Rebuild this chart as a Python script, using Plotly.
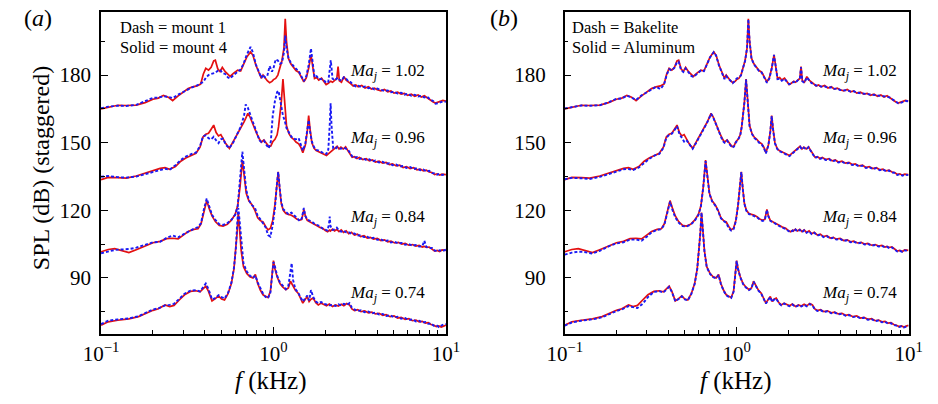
import plotly.graph_objects as go

# ---------------- data ----------------
# Ma_j = 1.02
F_102 = [0.100, 0.110, 0.125, 0.140, 0.160, 0.180, 0.200, 0.215, 0.230, 0.245,
         0.260, 0.280, 0.300, 0.320, 0.340, 0.360, 0.378, 0.392, 0.405, 0.420,
         0.435, 0.450, 0.460, 0.475, 0.490, 0.505, 0.525, 0.545, 0.560, 0.590,
         0.620, 0.645, 0.670, 0.700, 0.736, 0.760, 0.790, 0.820, 0.850, 0.870,
         0.890, 0.920, 0.950, 0.980, 1.000, 1.030, 1.060, 1.090, 1.120, 1.150,
         1.170, 1.190, 1.220, 1.260, 1.300, 1.350, 1.400, 1.450, 1.500, 1.550,
         1.600, 1.650, 1.690, 1.730, 1.780, 1.830, 1.900, 1.960, 2.020, 2.080,
         2.150, 2.200, 2.260, 2.330, 2.370, 2.410, 2.480, 2.560, 2.640, 2.720,
         2.800, 2.900, 3.000, 3.100, 3.250, 3.400, 3.550, 3.700, 3.850, 4.000,
         4.200, 4.400, 4.600, 4.800, 5.000, 5.250, 5.500, 5.750, 6.000, 6.300,
         6.600, 6.900, 7.200, 7.500, 7.800, 8.100, 8.400, 8.700, 9.000, 9.300,
         9.600, 10.00]
RED_102 = [165.0, 165.8, 166.6, 166.5, 166.7, 167.8, 169.3, 169.8, 171.0, 170.2,
           168.7, 170.8, 172.3, 174.0, 174.8, 175.2, 176.0, 180.5, 183.0, 182.2,
           183.5, 186.3, 186.6, 182.8, 181.6, 183.4, 181.5, 180.0, 179.4, 181.0,
           182.2, 181.8, 184.5, 188.0, 190.3, 188.8, 184.5, 181.5, 178.6, 180.0,
           178.8, 177.5, 176.6, 177.2, 178.0, 178.5, 180.0, 183.5, 186.5, 192.0,
           205.0, 195.0, 187.5, 185.0, 183.6, 182.0, 181.3, 179.2, 177.0, 178.8,
           183.0, 189.0, 183.5, 178.5, 178.9, 177.8, 178.6, 177.2, 175.8, 176.4,
           177.3, 176.8, 177.8, 178.5, 183.8, 177.5, 176.8, 179.3, 177.8, 176.8,
           176.2, 175.2, 175.6, 174.8, 175.4, 174.3, 174.8, 173.8, 174.2, 173.5,
           173.0, 173.6, 172.6, 173.0, 172.0, 172.4, 171.6, 171.9, 171.0, 171.5,
           170.6, 171.2, 170.3, 170.8, 169.8, 169.0, 168.2, 167.6, 167.9, 168.4,
           168.8, 168.5]
DASH_A_102 = [165.3, 166.0, 166.4, 166.3, 166.8, 168.3, 169.9, 170.0, 170.6, 170.3,
              169.8, 171.3, 172.6, 173.8, 174.7, 175.4, 176.3, 177.0, 178.8, 180.0,
              180.5, 180.8, 181.0, 181.9, 182.4, 181.0, 180.5, 178.9, 178.5, 180.2,
              181.6, 182.5, 185.0, 189.0, 192.5, 190.0, 184.8, 181.8, 178.8, 180.2,
              179.0, 179.5, 184.0, 181.5, 183.0, 187.0, 186.5, 185.0, 185.5, 190.0,
              197.5, 192.0, 187.8, 185.5, 184.2, 182.8, 181.8, 179.8, 177.3, 179.5,
              184.5, 191.8, 184.0, 179.0, 179.5, 178.3, 178.2, 177.8, 176.5, 177.0,
              186.6, 178.5, 177.6, 178.5, 178.9, 178.0, 177.5, 179.0, 178.4, 177.2,
              176.9, 175.6, 175.0, 175.3, 174.6, 174.9, 174.2, 174.5, 173.6, 174.0,
              173.6, 172.9, 173.2, 172.4, 172.6, 171.8, 172.2, 171.3, 171.7, 170.8,
              171.3, 170.5, 170.8, 170.1, 170.4, 169.2, 168.6, 167.3, 167.5, 167.8,
              168.3, 168.2]
DASH_B_102 = [165.2, 165.9, 166.5, 166.4, 166.6, 167.9, 169.5, 169.6, 170.9, 170.0,
              169.0, 171.0, 172.4, 173.9, 174.8, 173.8, 175.8, 180.0, 182.6, 182.0,
              183.3, 185.8, 186.0, 182.3, 181.4, 183.0, 181.3, 179.6, 179.2, 180.8,
              182.0, 181.7, 184.4, 187.8, 190.2, 188.6, 184.2, 181.2, 178.2, 179.6,
              178.5, 177.6, 176.4, 177.5, 178.5, 179.0, 179.8, 183.2, 186.3, 192.0,
              204.8, 195.0, 187.3, 184.8, 183.4, 181.8, 181.1, 179.0, 176.6, 178.5,
              182.8, 189.0, 183.2, 178.2, 178.4, 177.5, 178.3, 177.0, 176.0, 176.2,
              177.0, 176.5, 177.6, 178.3, 183.5, 177.3, 176.6, 179.0, 177.6, 176.5,
              176.0, 175.4, 175.3, 174.9, 175.0, 174.4, 174.6, 173.9, 174.0, 173.4,
              173.2, 173.3, 172.7, 172.8, 172.2, 172.0, 171.7, 171.5, 171.2, 171.3,
              170.9, 170.8, 170.5, 170.4, 170.0, 169.1, 168.3, 167.5, 167.7, 168.0,
              168.5, 168.4]

# Ma_j = 0.96
F_096 = [0.100, 0.110, 0.125, 0.140, 0.160, 0.180, 0.200, 0.220, 0.235, 0.250,
         0.270, 0.290, 0.310, 0.335, 0.355, 0.375, 0.390, 0.405, 0.420, 0.435,
         0.450, 0.465, 0.480, 0.495, 0.510, 0.530, 0.555, 0.585, 0.615, 0.645,
         0.675, 0.690, 0.710, 0.730, 0.755, 0.780, 0.800, 0.830, 0.850, 0.880,
         0.910, 0.940, 0.965, 0.990, 1.020, 1.050, 1.070, 1.090, 1.110, 1.135,
         1.160, 1.190, 1.230, 1.270, 1.310, 1.350, 1.400, 1.440, 1.480, 1.530,
         1.570, 1.600, 1.630, 1.670, 1.720, 1.770, 1.830, 1.900, 1.960, 2.030,
         2.080, 2.120, 2.145, 2.170, 2.220, 2.280, 2.340, 2.400, 2.460, 2.540,
         2.620, 2.700, 2.780, 2.860, 2.950, 3.050, 3.150, 3.300, 3.450, 3.600,
         3.750, 3.900, 4.100, 4.300, 4.500, 4.700, 4.900, 5.150, 5.400, 5.650,
         5.900, 6.200, 6.500, 6.800, 7.100, 7.400, 7.700, 8.000, 8.300, 8.600,
         8.900, 9.200, 9.500, 10.00]
RED_096 = [133.6, 134.6, 134.5, 134.3, 135.2, 136.4, 137.5, 138.6, 138.9, 138.2,
           139.4, 141.8, 143.2, 144.6, 145.3, 148.0, 152.5, 153.8, 154.2, 156.0,
           157.8, 154.5, 153.0, 153.6, 151.5, 149.5, 147.5, 150.5, 153.5, 156.0,
           159.2, 160.8, 163.0, 161.5, 158.5, 156.0, 154.0, 151.5, 150.2, 151.2,
           149.5, 148.3, 148.5, 150.4, 151.5, 153.5, 157.0, 162.0, 168.0, 178.2,
           168.0, 157.5, 154.0, 152.3, 151.5, 150.3, 149.5, 148.0, 145.5, 149.0,
           155.0, 162.0, 156.0, 150.0, 147.5, 146.5, 146.0, 145.5, 144.8, 144.3,
           145.0, 145.6, 146.0, 146.2, 147.0, 147.8, 148.4, 147.2, 148.0, 147.2,
           148.2, 146.5, 145.0, 143.5, 143.8, 143.0, 143.4, 142.5, 142.9, 141.9,
           142.3, 141.4, 141.8, 140.9, 141.2, 140.3, 140.6, 139.7, 140.0, 139.0,
           139.4, 138.5, 138.9, 138.0, 138.3, 137.5, 137.8, 137.0, 136.8, 135.9,
           136.2, 135.6, 136.0, 135.8]
DASH_A_096 = [134.9, 135.2, 134.7, 134.5, 135.0, 136.0, 137.2, 138.0, 138.4, 138.0,
              140.0, 142.3, 143.8, 145.0, 145.6, 148.5, 152.8, 153.3, 152.0, 151.5,
              152.6, 151.0, 149.8, 151.5, 151.8, 149.0, 147.6, 150.2, 153.5, 157.0,
              162.0, 167.0, 165.5, 163.0, 159.5, 156.2, 154.2, 151.0, 150.4, 151.0,
              149.0, 147.5, 150.5, 162.0, 168.5, 172.5, 173.0, 169.0, 165.5, 162.0,
              160.0, 156.5, 154.5, 152.6, 151.8, 151.5, 152.0, 149.5, 146.5, 149.5,
              155.0, 160.0, 155.0, 150.5, 148.0, 146.8, 146.5, 145.8, 145.3, 145.0,
              147.0, 158.0, 167.5, 158.0, 147.5, 147.2, 148.0, 147.6, 147.3, 147.8,
              147.5, 147.0, 145.5, 144.0, 143.3, 143.6, 142.8, 143.1, 142.3, 142.6,
              141.7, 142.1, 141.2, 141.5, 140.6, 140.9, 140.0, 140.3, 139.4, 139.7,
              138.8, 139.2, 138.3, 138.7, 137.8, 138.1, 137.3, 137.5, 136.5, 136.4,
              135.8, 136.2, 135.7, 136.0]
DASH_B_096 = [133.8, 134.4, 134.2, 133.9, 134.8, 136.0, 137.0, 138.2, 138.3, 137.9,
              139.0, 141.0, 142.8, 144.4, 145.0, 147.6, 152.2, 153.5, 154.0, 155.5,
              157.3, 153.8, 152.0, 150.5, 151.2, 149.3, 147.3, 150.3, 153.3, 155.8,
              159.0, 160.6, 162.8, 161.3, 158.4, 155.8, 153.5, 150.8, 150.0, 151.0,
              149.3, 147.8, 148.3, 150.2, 151.3, 153.3, 156.8, 161.8, 167.8, 178.0,
              167.8, 157.3, 153.8, 152.0, 151.2, 150.0, 149.2, 147.8, 145.2, 148.8,
              154.8, 161.8, 155.8, 149.8, 147.3, 146.2, 145.8, 145.2, 144.5, 144.0,
              144.8, 145.4, 145.8, 146.0, 146.8, 147.5, 148.2, 147.0, 147.8, 147.0,
              148.0, 146.3, 144.8, 143.3, 143.6, 142.8, 143.2, 142.3, 142.7, 141.7,
              142.1, 141.2, 141.6, 140.7, 141.0, 140.1, 140.4, 139.5, 139.8, 138.8,
              139.2, 138.3, 138.7, 137.8, 138.1, 137.3, 137.6, 136.8, 136.6, 135.7,
              136.0, 135.4, 135.8, 135.6]

# Ma_j = 0.84
F_084 = [0.100, 0.110, 0.120, 0.130, 0.145, 0.160, 0.180, 0.200, 0.220, 0.240,
         0.260, 0.280, 0.300, 0.320, 0.345, 0.365, 0.380, 0.395, 0.410, 0.425,
         0.440, 0.460, 0.485, 0.510, 0.540, 0.570, 0.600, 0.620, 0.640, 0.660,
         0.675, 0.695, 0.720, 0.750, 0.780, 0.810, 0.840, 0.870, 0.900, 0.930,
         0.960, 0.990, 1.020, 1.045, 1.065, 1.085, 1.110, 1.140, 1.180, 1.220,
         1.270, 1.320, 1.370, 1.420, 1.460, 1.500, 1.530, 1.570, 1.620, 1.680,
         1.740, 1.800, 1.860, 1.930, 2.000, 2.060, 2.100, 2.120, 2.140, 2.200,
         2.260, 2.330, 2.400, 2.470, 2.550, 2.640, 2.730, 2.830, 2.950, 3.070,
         3.200, 3.350, 3.500, 3.650, 3.800, 4.000, 4.200, 4.400, 4.600, 4.800,
         5.050, 5.300, 5.550, 5.800, 6.100, 6.400, 6.700, 7.000, 7.300, 7.500,
         7.700, 8.000, 8.300, 8.600, 8.900, 9.200, 9.500, 10.00]
RED_084 = [101.6, 102.6, 103.0, 102.3, 101.2, 102.5, 104.3, 105.6, 106.2, 107.4,
           107.6, 107.3, 109.0, 110.6, 111.5, 111.8, 114.0, 119.5, 124.3, 120.5,
           117.5, 115.0, 113.3, 113.0, 113.8, 115.6, 118.3, 122.0, 130.5, 142.3,
           136.0, 127.5, 124.2, 122.5, 120.0, 116.7, 115.4, 114.8, 112.8, 111.3,
           112.0, 115.5, 122.5, 132.0, 137.1, 130.0, 123.0, 120.0, 118.6, 118.2,
           117.8, 117.0, 116.0, 115.6, 116.0, 120.4, 117.5, 115.5, 115.0, 114.3,
           113.5, 113.0, 112.4, 112.0, 111.0, 110.5, 111.0, 111.2, 110.8, 111.6,
           110.8, 111.5, 110.5, 111.3, 110.2, 110.9, 109.6, 110.2, 109.0, 109.4,
           108.3, 108.7, 107.7, 108.0, 107.2, 107.5, 106.6, 106.9, 106.0, 106.3,
           105.5, 105.8, 105.0, 105.3, 104.5, 104.8, 104.1, 104.4, 103.7, 104.0,
           103.5, 103.7, 102.8, 101.9, 102.2, 101.7, 102.4, 102.2]
DASH_A_084 = [100.9, 101.8, 102.4, 102.6, 102.8, 103.4, 104.8, 105.8, 106.0, 107.8,
              108.8, 108.0, 109.3, 110.5, 111.8, 112.5, 114.3, 120.5, 125.2, 121.5,
              118.0, 115.8, 113.8, 113.5, 114.3, 115.8, 118.0, 121.8, 133.0, 146.0,
              138.5, 129.0, 124.5, 122.3, 121.2, 117.5, 116.0, 114.5, 112.5, 109.0,
              108.3, 113.5, 121.0, 131.0, 137.0, 130.5, 123.5, 120.5, 119.5, 118.3,
              119.0, 117.5, 116.5, 115.2, 116.5, 121.0, 117.5, 115.9, 115.5, 114.8,
              113.9, 113.3, 112.9, 111.8, 111.5, 111.0, 114.0, 117.2, 113.0, 111.3,
              111.5, 112.3, 111.0, 110.5, 111.0, 110.2, 110.3, 109.6, 109.7, 108.8,
              108.9, 108.1, 108.3, 107.5, 107.8, 106.9, 107.1, 106.3, 106.6, 105.7,
              106.0, 105.3, 105.5, 104.7, 105.0, 104.3, 104.6, 103.9, 104.1, 106.5,
              103.8, 103.2, 103.3, 102.2, 101.8, 102.3, 101.9, 102.5]
DASH_B_084 = [100.3, 101.2, 101.6, 101.5, 100.8, 102.0, 104.0, 105.3, 105.8, 107.0,
              107.0, 106.5, 108.2, 110.2, 111.3, 111.6, 113.6, 119.0, 123.8, 119.8,
              116.8, 114.5, 113.0, 112.8, 113.6, 115.3, 118.0, 121.8, 130.3, 141.8,
              135.8, 127.3, 124.0, 122.2, 119.8, 116.5, 115.2, 114.5, 112.0, 111.0,
              111.6, 115.2, 122.3, 131.8, 136.9, 129.8, 122.8, 119.8, 118.3, 118.0,
              117.5, 116.8, 115.7, 115.3, 115.8, 120.2, 117.3, 115.3, 114.8, 114.0,
              113.2, 112.7, 112.2, 111.7, 110.8, 110.3, 110.8, 111.0, 110.5, 111.4,
              110.6, 111.3, 110.3, 111.1, 110.0, 110.7, 109.4, 110.0, 108.8, 109.2,
              108.1, 108.5, 107.5, 107.8, 107.0, 107.3, 106.4, 106.7, 105.8, 106.1,
              105.3, 105.6, 104.8, 105.1, 104.3, 104.6, 103.9, 104.2, 103.5, 103.8,
              103.3, 103.5, 102.6, 101.7, 102.0, 101.5, 102.2, 102.0]

# Ma_j = 0.74
F_074 = [0.100, 0.110, 0.125, 0.145, 0.165, 0.185, 0.200, 0.215, 0.235, 0.250,
         0.265, 0.285, 0.305, 0.330, 0.355, 0.375, 0.390, 0.405, 0.420, 0.440,
         0.460, 0.480, 0.500, 0.520, 0.545, 0.570, 0.590, 0.605, 0.615, 0.625,
         0.635, 0.650, 0.670, 0.700, 0.730, 0.760, 0.785, 0.810, 0.840, 0.870,
         0.900, 0.930, 0.960, 0.985, 1.000, 1.020, 1.050, 1.090, 1.130, 1.180,
         1.220, 1.255, 1.275, 1.300, 1.340, 1.390, 1.440, 1.480, 1.530, 1.570,
         1.610, 1.650, 1.700, 1.760, 1.820, 1.890, 1.960, 2.030, 2.110, 2.200,
         2.290, 2.380, 2.470, 2.560, 2.660, 2.760, 2.850, 2.950, 3.080, 3.220,
         3.380, 3.550, 3.720, 3.900, 4.100, 4.300, 4.500, 4.750, 5.000, 5.250,
         5.500, 5.800, 6.100, 6.400, 6.700, 7.000, 7.300, 7.600, 7.900, 8.200,
         8.500, 8.800, 9.100, 9.400, 9.700, 10.00]
RED_074 = [69.0, 70.5, 71.2, 71.8, 72.8, 74.5, 75.6, 76.3, 78.0, 77.3,
           77.8, 80.3, 82.5, 84.0, 84.3, 83.8, 85.2, 86.3, 84.0, 79.8,
           80.8, 82.0, 80.6, 80.2, 83.0, 87.5, 94.0, 102.0, 110.0, 119.0,
           112.0, 102.0, 95.0, 92.0, 90.5, 90.0, 91.5, 87.5, 84.5, 82.5,
           81.8, 81.3, 84.0, 92.0, 97.7, 94.0, 90.5, 87.5, 86.0, 84.8,
           85.5, 88.5, 87.5, 86.0, 84.5, 83.2, 81.0, 78.8, 80.5, 81.7,
           79.5, 80.5, 81.0, 79.0, 78.0, 78.8, 78.2, 77.6, 78.4, 77.3,
           78.0, 77.5, 78.3, 77.6, 78.6, 78.0, 76.2, 75.5, 75.9, 75.0,
           75.4, 74.5, 74.8, 74.0, 74.3, 73.4, 73.7, 72.8, 73.1, 72.2,
           72.5, 71.6, 71.9, 71.0, 71.3, 70.5, 70.7, 69.9, 70.1, 69.3,
           69.0, 68.4, 68.7, 68.2, 68.6, 69.0]
DASH_A_074 = [69.5, 71.0, 71.6, 72.0, 73.0, 75.0, 76.0, 76.5, 77.8, 78.0,
              78.5, 80.8, 83.0, 84.3, 84.6, 84.0, 86.0, 87.5, 85.0, 80.5,
              81.0, 82.3, 81.5, 80.8, 83.3, 87.8, 94.5, 103.0, 113.0, 121.0,
              116.0, 106.0, 96.5, 92.8, 91.0, 90.0, 91.0, 88.0, 85.0, 83.0,
              81.5, 81.0, 83.5, 91.0, 97.0, 95.0, 91.0, 88.0, 86.5, 85.0,
              86.5, 92.0, 96.5, 89.0, 85.0, 83.5, 81.5, 79.5, 81.0, 82.2,
              80.0, 84.6, 81.5, 79.5, 78.8, 79.3, 78.5, 78.3, 77.8, 78.0,
              77.5, 78.3, 77.8, 78.5, 78.0, 78.8, 76.8, 76.0, 75.3, 75.6,
              74.8, 75.1, 74.2, 74.6, 73.7, 74.0, 73.1, 73.4, 72.5, 72.8,
              71.9, 72.2, 71.3, 71.6, 70.7, 71.0, 70.2, 70.4, 69.6, 69.8,
              68.8, 69.0, 68.2, 68.8, 69.4, 69.5]
DASH_B_074 = [68.8, 70.2, 71.0, 71.6, 72.5, 74.2, 75.3, 76.0, 77.5, 77.0,
              76.6, 78.6, 81.5, 83.8, 84.1, 83.5, 85.0, 86.0, 83.8, 79.6,
              80.6, 81.8, 80.4, 80.0, 82.8, 87.3, 93.8, 101.8, 109.8, 119.0,
              111.8, 101.8, 94.8, 91.8, 90.3, 89.8, 91.3, 87.3, 84.3, 82.3,
              81.6, 81.1, 83.8, 91.8, 97.5, 93.8, 90.3, 87.3, 85.8, 84.6,
              85.3, 88.3, 87.3, 85.8, 84.3, 83.0, 80.8, 78.6, 80.3, 81.5,
              79.3, 80.3, 80.8, 78.8, 77.8, 78.6, 78.0, 77.4, 78.2, 77.1,
              77.8, 77.3, 78.1, 77.4, 78.4, 77.8, 76.0, 75.3, 75.7, 74.8,
              75.2, 74.3, 74.6, 73.8, 74.1, 73.2, 73.5, 72.6, 72.9, 72.0,
              72.3, 71.4, 71.7, 70.8, 71.1, 70.3, 70.5, 69.7, 69.9, 69.1,
              68.8, 68.2, 68.5, 68.0, 68.4, 68.8]

MACH_LABELS = ["1.02", "0.96", "0.84", "0.74"]
PANEL_A_NOTES = ["Dash = mount 1", "Solid = mount 4"]
PANEL_B_NOTES = ["Dash = Bakelite", "Solid = Aluminum"]
X_TICKS = [0.1, 1, 10]
X_TICK_TEXT = ["10<sup>\u22121</sup>", "10<sup>0</sup>", "10<sup>1</sup>"]
X_MINOR = [0.2, 0.3, 0.4, 0.5, 0.6, 0.7, 0.8, 0.9, 2, 3, 4, 5, 6, 7, 8, 9]
Y_TICKS = [90, 120, 150, 180]
Y_MINOR = [75, 105, 135, 165, 195]

# ---------------- figure ----------------
W, H = 938, 404
RED = "rgb(228,16,16)"
BLUE = "rgb(25,25,245)"
SERIF = "Liberation Serif"

fig = go.Figure()

sets = [
    (F_102, RED_102, DASH_A_102, DASH_B_102),
    (F_096, RED_096, DASH_A_096, DASH_B_096),
    (F_084, RED_084, DASH_A_084, DASH_B_084),
    (F_074, RED_074, DASH_A_074, DASH_B_074),
]

for f, red, da, db in sets:
    fig.add_trace(go.Scatter(x=f, y=red, mode="lines", xaxis="x", yaxis="y",
                             line=dict(color=RED, width=1.7)))
    fig.add_trace(go.Scatter(x=f, y=red, mode="lines", xaxis="x2", yaxis="y2",
                             line=dict(color=RED, width=1.7)))
for f, red, da, db in sets:
    fig.add_trace(go.Scatter(x=f, y=da, mode="lines", xaxis="x", yaxis="y",
                             line=dict(color=BLUE, width=1.9, dash="3px,2px")))
    fig.add_trace(go.Scatter(x=f, y=db, mode="lines", xaxis="x2", yaxis="y2",
                             line=dict(color=BLUE, width=1.9, dash="3px,2px")))


def px2x(px):
    return px / W


def px2y(py):
    return 1 - py / H


xa = dict(type="log", range=[-1, 1], tickmode="array", tickvals=X_TICKS,
          ticktext=X_TICK_TEXT, ticks="inside", ticklen=7, tickwidth=1.3,
          tickcolor="black", showline=True, linecolor="black", linewidth=1.6,
          mirror=True, showgrid=False, zeroline=False,
          tickfont=dict(family=SERIF, size=21, color="black"),
          minor=dict(tickmode="array", tickvals=X_MINOR, ticks="inside",
                     ticklen=4, tickwidth=1, tickcolor="black", showgrid=False))
ya = dict(range=[65.1, 208.0], tickmode="array", tickvals=Y_TICKS,
          ticks="inside", ticklen=7, tickwidth=1.3, tickcolor="black",
          showline=True, linecolor="black", linewidth=1.6, mirror=True,
          showgrid=False, zeroline=False,
          tickfont=dict(family=SERIF, size=21, color="black"),
          minor=dict(tickmode="array", tickvals=Y_MINOR, ticks="inside",
                     ticklen=4, tickwidth=1, tickcolor="black", showgrid=False))

fig.update_layout(
    width=W, height=H, autosize=False,
    margin=dict(l=0, r=0, t=0, b=0),
    paper_bgcolor="white", plot_bgcolor="white",
    showlegend=False, hovermode=False,
    font=dict(family=SERIF, color="black"),
    xaxis=dict(xa, domain=[px2x(86), px2x(443)], anchor="y"),
    yaxis=dict(ya, domain=[px2y(334), px2y(12)], anchor="x", ticklabelstandoff=4),
    xaxis2=dict(xa, domain=[px2x(566), px2x(922)], anchor="y2"),
    yaxis2=dict(ya, domain=[px2y(334), px2y(12)], anchor="x2", ticklabelstandoff=13),
)


def note(text, xp, yp, size, xanchor="center", angle=0):
    return dict(text=text, x=px2x(xp), y=px2y(yp), xref="paper", yref="paper",
                xanchor=xanchor, yanchor="middle", showarrow=False, textangle=angle,
                font=dict(family=SERIF, size=size, color="black"))


ann = []
# panel labels
ann.append(note("(<i>a</i>)", 21, 18, 24))
ann.append(note("(<i>b</i>)", 503, 18, 24))
# notes
for i, t in enumerate(PANEL_A_NOTES):
    ann.append(note(t, 104, 27 + 20 * i, 16.5, xanchor="left"))
for i, t in enumerate(PANEL_B_NOTES):
    ann.append(note(t, 572, 27 + 20 * i, 16.5, xanchor="left"))
# Mach labels
label_y = [72, 139, 218, 294]
for lab, ly in zip(MACH_LABELS, label_y):
    for xr in (423, 912):
        ann.append(note("<i>Ma</i><sub><i>j</i></sub> = " + lab, xr, ly, 17,
                        xanchor="right"))
# axis titles
ann.append(note("SPL (dB) (staggered)", 24, 168, 24, angle=-90))
for xc in (262, 743):
    ann.append(note("<i>f</i> (kHz)", xc, 381, 25))

fig.update_layout(annotations=ann)
fig.write_html("out.html")
